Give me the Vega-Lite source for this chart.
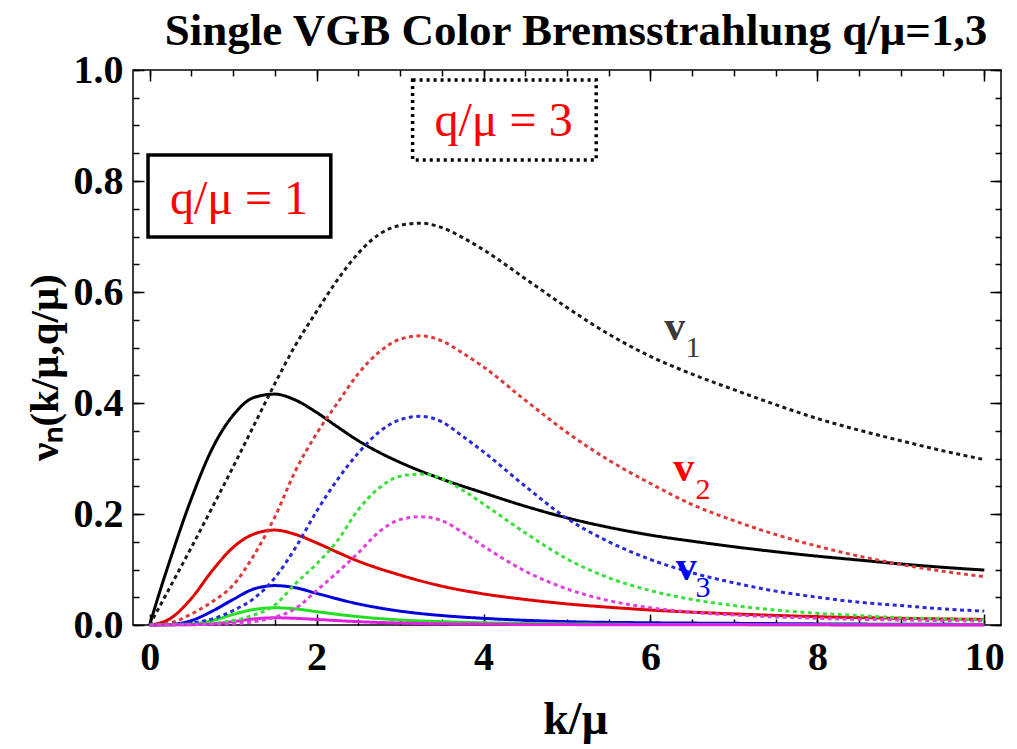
{
  "$schema": "https://vega.github.io/schema/vega-lite/v6.json",
  "width": 868,
  "height": 555,
  "autosize": "none",
  "padding": {"left": 133, "top": 70, "right": 16, "bottom": 124},
  "background": "white",
  "config": {"view": {"stroke": "black", "strokeWidth": 1.5}, "font": "Liberation Serif"},
  "title": {"text": "Single VGB Color Bremsstrahlung q/μ=1,3", "font": "Liberation Serif", "fontSize": 45, "fontWeight": "bold", "color": "black", "anchor": "middle", "offset": 22, "baseline": "alphabetic", "dx": 9, "dy": 62},
  "datasets": {
    "curves": [
      {"id":"1-1","q":"1","k":0,"v":0},{"id":"1-1","q":"1","k":0.1,"v":0.05},{"id":"1-1","q":"1","k":0.25,"v":0.12},{"id":"1-1","q":"1","k":0.5,"v":0.228},{"id":"1-1","q":"1","k":0.75,"v":0.318},{"id":"1-1","q":"1","k":1,"v":0.378},{"id":"1-1","q":"1","k":1.25,"v":0.41},{"id":"1-1","q":"1","k":1.5,"v":0.416},{"id":"1-1","q":"1","k":1.75,"v":0.405},{"id":"1-1","q":"1","k":2,"v":0.383},{"id":"1-1","q":"1","k":2.25,"v":0.357},{"id":"1-1","q":"1","k":2.5,"v":0.332},{"id":"1-1","q":"1","k":2.75,"v":0.311},{"id":"1-1","q":"1","k":3,"v":0.293},{"id":"1-1","q":"1","k":3.5,"v":0.263},{"id":"1-1","q":"1","k":4,"v":0.238},{"id":"1-1","q":"1","k":4.5,"v":0.214},{"id":"1-1","q":"1","k":5,"v":0.193},{"id":"1-1","q":"1","k":5.5,"v":0.176},{"id":"1-1","q":"1","k":6,"v":0.162},{"id":"1-1","q":"1","k":6.5,"v":0.151},{"id":"1-1","q":"1","k":7,"v":0.141},{"id":"1-1","q":"1","k":7.5,"v":0.132},{"id":"1-1","q":"1","k":8,"v":0.124},{"id":"1-1","q":"1","k":8.5,"v":0.117},{"id":"1-1","q":"1","k":9,"v":0.11},{"id":"1-1","q":"1","k":9.5,"v":0.104},{"id":"1-1","q":"1","k":10,"v":0.099},
      {"id":"1-2","q":"1","k":0,"v":0},{"id":"1-2","q":"1","k":0.25,"v":0.012},{"id":"1-2","q":"1","k":0.5,"v":0.048},{"id":"1-2","q":"1","k":0.75,"v":0.098},{"id":"1-2","q":"1","k":1,"v":0.14},{"id":"1-2","q":"1","k":1.25,"v":0.164},{"id":"1-2","q":"1","k":1.5,"v":0.171},{"id":"1-2","q":"1","k":1.75,"v":0.163},{"id":"1-2","q":"1","k":2,"v":0.148},{"id":"1-2","q":"1","k":2.25,"v":0.131},{"id":"1-2","q":"1","k":2.5,"v":0.115},{"id":"1-2","q":"1","k":3,"v":0.09},{"id":"1-2","q":"1","k":3.5,"v":0.07},{"id":"1-2","q":"1","k":4,"v":0.056},{"id":"1-2","q":"1","k":4.5,"v":0.046},{"id":"1-2","q":"1","k":5,"v":0.038},{"id":"1-2","q":"1","k":5.5,"v":0.032},{"id":"1-2","q":"1","k":6,"v":0.027},{"id":"1-2","q":"1","k":7,"v":0.02},{"id":"1-2","q":"1","k":8,"v":0.015},{"id":"1-2","q":"1","k":9,"v":0.012},{"id":"1-2","q":"1","k":10,"v":0.01},
      {"id":"1-3","q":"1","k":0,"v":0},{"id":"1-3","q":"1","k":0.25,"v":0.001},{"id":"1-3","q":"1","k":0.5,"v":0.008},{"id":"1-3","q":"1","k":0.75,"v":0.025},{"id":"1-3","q":"1","k":1,"v":0.046},{"id":"1-3","q":"1","k":1.25,"v":0.065},{"id":"1-3","q":"1","k":1.5,"v":0.071},{"id":"1-3","q":"1","k":1.75,"v":0.067},{"id":"1-3","q":"1","k":2,"v":0.057},{"id":"1-3","q":"1","k":2.5,"v":0.038},{"id":"1-3","q":"1","k":3,"v":0.025},{"id":"1-3","q":"1","k":3.5,"v":0.017},{"id":"1-3","q":"1","k":4,"v":0.012},{"id":"1-3","q":"1","k":5,"v":0.006},{"id":"1-3","q":"1","k":6,"v":0.004},{"id":"1-3","q":"1","k":7,"v":0.003},{"id":"1-3","q":"1","k":8,"v":0.002},{"id":"1-3","q":"1","k":10,"v":0.001},
      {"id":"1-4","q":"1","k":0,"v":0},{"id":"1-4","q":"1","k":0.5,"v":0.002},{"id":"1-4","q":"1","k":0.75,"v":0.008},{"id":"1-4","q":"1","k":1,"v":0.019},{"id":"1-4","q":"1","k":1.25,"v":0.028},{"id":"1-4","q":"1","k":1.5,"v":0.031},{"id":"1-4","q":"1","k":1.75,"v":0.029},{"id":"1-4","q":"1","k":2,"v":0.024},{"id":"1-4","q":"1","k":2.5,"v":0.015},{"id":"1-4","q":"1","k":3,"v":0.009},{"id":"1-4","q":"1","k":3.5,"v":0.006},{"id":"1-4","q":"1","k":4,"v":0.004},{"id":"1-4","q":"1","k":5,"v":0.002},{"id":"1-4","q":"1","k":6,"v":0.001},{"id":"1-4","q":"1","k":10,"v":0.0003},
      {"id":"1-5","q":"1","k":0,"v":0},{"id":"1-5","q":"1","k":0.5,"v":0.0005},{"id":"1-5","q":"1","k":0.75,"v":0.002},{"id":"1-5","q":"1","k":1,"v":0.006},{"id":"1-5","q":"1","k":1.25,"v":0.011},{"id":"1-5","q":"1","k":1.5,"v":0.013},{"id":"1-5","q":"1","k":1.75,"v":0.012},{"id":"1-5","q":"1","k":2,"v":0.01},{"id":"1-5","q":"1","k":2.5,"v":0.006},{"id":"1-5","q":"1","k":3,"v":0.0035},{"id":"1-5","q":"1","k":4,"v":0.0015},{"id":"1-5","q":"1","k":5,"v":0.0007},{"id":"1-5","q":"1","k":10,"v":0.0001},
      {"id":"3-1","q":"3","k":0,"v":0},{"id":"3-1","q":"3","k":0.25,"v":0.07},{"id":"3-1","q":"3","k":0.5,"v":0.14},{"id":"3-1","q":"3","k":0.75,"v":0.212},{"id":"3-1","q":"3","k":1,"v":0.285},{"id":"3-1","q":"3","k":1.25,"v":0.36},{"id":"3-1","q":"3","k":1.5,"v":0.435},{"id":"3-1","q":"3","k":1.75,"v":0.505},{"id":"3-1","q":"3","k":2,"v":0.565},{"id":"3-1","q":"3","k":2.25,"v":0.622},{"id":"3-1","q":"3","k":2.5,"v":0.67},{"id":"3-1","q":"3","k":2.75,"v":0.704},{"id":"3-1","q":"3","k":3,"v":0.72},{"id":"3-1","q":"3","k":3.25,"v":0.724},{"id":"3-1","q":"3","k":3.5,"v":0.716},{"id":"3-1","q":"3","k":3.75,"v":0.698},{"id":"3-1","q":"3","k":4,"v":0.676},{"id":"3-1","q":"3","k":4.5,"v":0.624},{"id":"3-1","q":"3","k":5,"v":0.572},{"id":"3-1","q":"3","k":5.5,"v":0.524},{"id":"3-1","q":"3","k":6,"v":0.484},{"id":"3-1","q":"3","k":6.5,"v":0.452},{"id":"3-1","q":"3","k":7,"v":0.424},{"id":"3-1","q":"3","k":7.5,"v":0.397},{"id":"3-1","q":"3","k":8,"v":0.372},{"id":"3-1","q":"3","k":8.5,"v":0.351},{"id":"3-1","q":"3","k":9,"v":0.332},{"id":"3-1","q":"3","k":9.5,"v":0.314},{"id":"3-1","q":"3","k":10,"v":0.298},
      {"id":"3-2","q":"3","k":0,"v":0},{"id":"3-2","q":"3","k":0.25,"v":0.004},{"id":"3-2","q":"3","k":0.5,"v":0.02},{"id":"3-2","q":"3","k":0.75,"v":0.042},{"id":"3-2","q":"3","k":1,"v":0.072},{"id":"3-2","q":"3","k":1.25,"v":0.126},{"id":"3-2","q":"3","k":1.5,"v":0.195},{"id":"3-2","q":"3","k":1.75,"v":0.279},{"id":"3-2","q":"3","k":2,"v":0.345},{"id":"3-2","q":"3","k":2.25,"v":0.4},{"id":"3-2","q":"3","k":2.5,"v":0.453},{"id":"3-2","q":"3","k":2.75,"v":0.492},{"id":"3-2","q":"3","k":3,"v":0.515},{"id":"3-2","q":"3","k":3.25,"v":0.521},{"id":"3-2","q":"3","k":3.5,"v":0.512},{"id":"3-2","q":"3","k":3.75,"v":0.49},{"id":"3-2","q":"3","k":4,"v":0.465},{"id":"3-2","q":"3","k":4.5,"v":0.405},{"id":"3-2","q":"3","k":5,"v":0.347},{"id":"3-2","q":"3","k":5.5,"v":0.297},{"id":"3-2","q":"3","k":6,"v":0.255},{"id":"3-2","q":"3","k":6.5,"v":0.217},{"id":"3-2","q":"3","k":7,"v":0.188},{"id":"3-2","q":"3","k":7.5,"v":0.163},{"id":"3-2","q":"3","k":8,"v":0.142},{"id":"3-2","q":"3","k":8.5,"v":0.124},{"id":"3-2","q":"3","k":9,"v":0.109},{"id":"3-2","q":"3","k":9.5,"v":0.097},{"id":"3-2","q":"3","k":10,"v":0.087},
      {"id":"3-3","q":"3","k":0,"v":0},{"id":"3-3","q":"3","k":0.5,"v":0.004},{"id":"3-3","q":"3","k":0.75,"v":0.011},{"id":"3-3","q":"3","k":1,"v":0.026},{"id":"3-3","q":"3","k":1.25,"v":0.048},{"id":"3-3","q":"3","k":1.5,"v":0.085},{"id":"3-3","q":"3","k":1.75,"v":0.14},{"id":"3-3","q":"3","k":2,"v":0.205},{"id":"3-3","q":"3","k":2.25,"v":0.262},{"id":"3-3","q":"3","k":2.5,"v":0.31},{"id":"3-3","q":"3","k":2.75,"v":0.348},{"id":"3-3","q":"3","k":3,"v":0.37},{"id":"3-3","q":"3","k":3.25,"v":0.376},{"id":"3-3","q":"3","k":3.5,"v":0.366},{"id":"3-3","q":"3","k":3.75,"v":0.34},{"id":"3-3","q":"3","k":4,"v":0.312},{"id":"3-3","q":"3","k":4.5,"v":0.25},{"id":"3-3","q":"3","k":5,"v":0.192},{"id":"3-3","q":"3","k":5.5,"v":0.15},{"id":"3-3","q":"3","k":6,"v":0.118},{"id":"3-3","q":"3","k":6.5,"v":0.094},{"id":"3-3","q":"3","k":7,"v":0.076},{"id":"3-3","q":"3","k":7.5,"v":0.061},{"id":"3-3","q":"3","k":8,"v":0.05},{"id":"3-3","q":"3","k":8.5,"v":0.041},{"id":"3-3","q":"3","k":9,"v":0.035},{"id":"3-3","q":"3","k":9.5,"v":0.029},{"id":"3-3","q":"3","k":10,"v":0.025},
      {"id":"3-4","q":"3","k":0,"v":0},{"id":"3-4","q":"3","k":0.5,"v":0.001},{"id":"3-4","q":"3","k":1,"v":0.008},{"id":"3-4","q":"3","k":1.25,"v":0.018},{"id":"3-4","q":"3","k":1.5,"v":0.036},{"id":"3-4","q":"3","k":1.75,"v":0.075},{"id":"3-4","q":"3","k":2,"v":0.11},{"id":"3-4","q":"3","k":2.25,"v":0.152},{"id":"3-4","q":"3","k":2.5,"v":0.208},{"id":"3-4","q":"3","k":2.75,"v":0.247},{"id":"3-4","q":"3","k":3,"v":0.268},{"id":"3-4","q":"3","k":3.25,"v":0.272},{"id":"3-4","q":"3","k":3.5,"v":0.264},{"id":"3-4","q":"3","k":3.75,"v":0.243},{"id":"3-4","q":"3","k":4,"v":0.218},{"id":"3-4","q":"3","k":4.5,"v":0.166},{"id":"3-4","q":"3","k":5,"v":0.119},{"id":"3-4","q":"3","k":5.5,"v":0.085},{"id":"3-4","q":"3","k":6,"v":0.062},{"id":"3-4","q":"3","k":6.5,"v":0.046},{"id":"3-4","q":"3","k":7,"v":0.035},{"id":"3-4","q":"3","k":7.5,"v":0.027},{"id":"3-4","q":"3","k":8,"v":0.021},{"id":"3-4","q":"3","k":8.5,"v":0.017},{"id":"3-4","q":"3","k":9,"v":0.013},{"id":"3-4","q":"3","k":9.5,"v":0.011},{"id":"3-4","q":"3","k":10,"v":0.009},
      {"id":"3-5","q":"3","k":0,"v":0},{"id":"3-5","q":"3","k":1,"v":0.002},{"id":"3-5","q":"3","k":1.25,"v":0.006},{"id":"3-5","q":"3","k":1.5,"v":0.014},{"id":"3-5","q":"3","k":1.75,"v":0.03},{"id":"3-5","q":"3","k":2,"v":0.062},{"id":"3-5","q":"3","k":2.25,"v":0.095},{"id":"3-5","q":"3","k":2.5,"v":0.13},{"id":"3-5","q":"3","k":2.75,"v":0.168},{"id":"3-5","q":"3","k":3,"v":0.19},{"id":"3-5","q":"3","k":3.25,"v":0.195},{"id":"3-5","q":"3","k":3.5,"v":0.188},{"id":"3-5","q":"3","k":3.75,"v":0.167},{"id":"3-5","q":"3","k":4,"v":0.142},{"id":"3-5","q":"3","k":4.5,"v":0.097},{"id":"3-5","q":"3","k":5,"v":0.065},{"id":"3-5","q":"3","k":5.5,"v":0.044},{"id":"3-5","q":"3","k":6,"v":0.031},{"id":"3-5","q":"3","k":6.5,"v":0.023},{"id":"3-5","q":"3","k":7,"v":0.018},{"id":"3-5","q":"3","k":8,"v":0.012},{"id":"3-5","q":"3","k":9,"v":0.009},{"id":"3-5","q":"3","k":10,"v":0.007}
    ],
    "boxes": [
      {"box": "q1", "x1": -0.02, "x2": 2.17, "y1": 0.699, "y2": 0.847, "label": "q/μ = 1", "lx": 1.07, "ly": 0.766},
      {"box": "q3", "x1": 3.15, "x2": 5.35, "y1": 0.838, "y2": 0.982, "label": "q/μ = 3", "lx": 4.24, "ly": 0.906}
    ],
    "vlabels": [
      {"n": "1", "vx": 6.29, "vy": 0.537, "sx": 6.51, "sy": 0.499},
      {"n": "2", "vx": 6.4, "vy": 0.283, "sx": 6.63, "sy": 0.243},
      {"n": "3", "vx": 6.43, "vy": 0.105, "sx": 6.63, "sy": 0.067}
    ]
  },
  "resolve": {"axis": {"x": "independent", "y": "independent"}, "scale": {"color": "independent", "strokeDash": "independent"}},
  "layer": [
    {
      "data": {"name": "curves"},
      "mark": {"type": "line", "interpolate": "monotone", "strokeWidth": 3, "strokeCap": "butt"},
      "encoding": {
        "x": {"field": "k", "type": "quantitative", "scale": {"domain": [-0.2, 10.2], "nice": false, "zero": false},
          "axis": {"orient": "bottom", "values": [0, 2, 4, 6, 8, 10], "ticks": false, "domain": false, "grid": false, "labelFont": "Liberation Serif", "labelFontWeight": "bold", "labelFontSize": 40, "labelColor": "black", "labelPadding": 12, "labelFlush": false, "title": "k/μ", "titleFont": "Liberation Serif", "titleFontSize": 46, "titleFontWeight": "bold", "titleColor": "black", "titleBaseline": "alphabetic", "titleX": 442, "titleY": 108}},
        "y": {"field": "v", "type": "quantitative", "scale": {"domain": [0, 1], "nice": false},
          "axis": {"orient": "left", "values": [0, 0.2, 0.4, 0.6, 0.8, 1], "format": ".1f", "ticks": false, "domain": false, "grid": false, "labelFont": "Liberation Serif", "labelFontWeight": "bold", "labelFontSize": 40, "labelColor": "black", "labelPadding": 10, "labelFlush": false, "title": "νₙ(k/μ,q/μ)", "titleFont": "Liberation Serif", "titleFontSize": 41, "titleFontWeight": "bold", "titleColor": "black", "titleAngle": -90, "titleBaseline": "middle", "titleAlign": "center", "titleX": -88, "titleY": 297}},
        "color": {"field": "id", "type": "nominal", "legend": null,
          "scale": {"domain": ["1-1", "1-2", "1-3", "1-4", "1-5", "3-1", "3-2", "3-3", "3-4", "3-5"],
            "range": ["#000000", "#e00000", "#0000dd", "#22e022", "#e020e0", "#1a1a1a", "#e03a3a", "#2a2ad8", "#3ae03a", "#e040e0"]}},
        "strokeDash": {"field": "q", "type": "nominal", "legend": null, "scale": {"domain": ["1", "3"], "range": [[1, 0], [4, 3.5]]}},
        "detail": {"field": "id"}
      }
    },
    {
      "data": {"name": "boxes"},
      "transform": [{"filter": "datum.box === 'q1'"}],
      "mark": {"type": "rect", "fillOpacity": 0, "stroke": "black", "strokeWidth": 3.5},
      "encoding": {
        "x": {"field": "x1", "type": "quantitative", "scale": {"domain": [-0.2, 10.2], "nice": false, "zero": false},
          "axis": {"orient": "top", "offset": -555, "values": [0, 2, 4, 6, 8, 10], "labels": false, "domain": false, "grid": false, "tickSize": 11, "tickWidth": 1.5, "tickColor": "black", "title": null}},
        "x2": {"field": "x2"},
        "y": {"field": "y1", "type": "quantitative", "scale": {"domain": [0, 1], "nice": false},
          "axis": {"orient": "right", "offset": -868, "values": [0, 0.2, 0.4, 0.6, 0.8, 1], "labels": false, "domain": false, "grid": false, "tickSize": 11, "tickWidth": 1.5, "tickColor": "black", "title": null}},
        "y2": {"field": "y2"}
      }
    },
    {
      "data": {"name": "boxes"},
      "transform": [{"filter": "datum.box === 'q3'"}],
      "mark": {"type": "rect", "fillOpacity": 0, "stroke": "black", "strokeWidth": 3.5, "strokeDash": [3, 4]},
      "encoding": {
        "x": {"field": "x1", "type": "quantitative", "scale": {"domain": [-0.2, 10.2], "nice": false, "zero": false}, "axis": null},
        "x2": {"field": "x2"},
        "y": {"field": "y1", "type": "quantitative", "scale": {"domain": [0, 1], "nice": false}, "axis": null},
        "y2": {"field": "y2"}
      }
    },
    {
      "data": {"name": "boxes"},
      "mark": {"type": "text", "font": "Liberation Serif", "fontSize": 48, "color": "#ff0000", "align": "center", "baseline": "middle"},
      "encoding": {
        "x": {"field": "lx", "type": "quantitative", "scale": {"domain": [-0.2, 10.2], "nice": false, "zero": false},
          "axis": {"orient": "top", "offset": -555, "values": [0, 0.5, 1, 1.5, 2, 2.5, 3, 3.5, 4, 4.5, 5, 5.5, 6, 6.5, 7, 7.5, 8, 8.5, 9, 9.5, 10], "labels": false, "domain": false, "grid": false, "tickSize": 6, "tickWidth": 1.5, "tickColor": "black", "title": null}},
        "y": {"field": "ly", "type": "quantitative", "scale": {"domain": [0, 1], "nice": false},
          "axis": {"orient": "right", "offset": -868, "values": [0, 0.05, 0.1, 0.15, 0.2, 0.25, 0.3, 0.35, 0.4, 0.45, 0.5, 0.55, 0.6, 0.65, 0.7, 0.75, 0.8, 0.85, 0.9, 0.95, 1], "labels": false, "domain": false, "grid": false, "tickSize": 6, "tickWidth": 1.5, "tickColor": "black", "title": null}},
        "text": {"field": "label"}
      }
    },
    {
      "data": {"name": "vlabels"},
      "mark": {"type": "text", "font": "Liberation Serif", "fontSize": 42, "fontWeight": "bold", "align": "center", "baseline": "middle"},
      "encoding": {
        "x": {"field": "vx", "type": "quantitative", "scale": {"domain": [-0.2, 10.2], "nice": false, "zero": false},
          "axis": {"orient": "bottom", "offset": -555, "values": [0, 2, 4, 6, 8, 10], "labels": false, "domain": false, "grid": false, "tickSize": 11, "tickWidth": 1.5, "tickColor": "black", "title": null}},
        "y": {"field": "vy", "type": "quantitative", "scale": {"domain": [0, 1], "nice": false},
          "axis": {"orient": "left", "offset": -868, "values": [0, 0.2, 0.4, 0.6, 0.8, 1], "labels": false, "domain": false, "grid": false, "tickSize": 11, "tickWidth": 1.5, "tickColor": "black", "title": null}},
        "text": {"value": "v"},
        "color": {"field": "n", "type": "nominal", "legend": null, "scale": {"domain": ["1", "2", "3"], "range": ["#3a3a3a", "#ff0000", "#0000ff"]}}
      }
    },
    {
      "data": {"name": "vlabels"},
      "mark": {"type": "text", "font": "Liberation Serif", "fontSize": 30, "align": "center", "baseline": "middle"},
      "encoding": {
        "x": {"field": "sx", "type": "quantitative", "scale": {"domain": [-0.2, 10.2], "nice": false, "zero": false},
          "axis": {"orient": "bottom", "offset": -555, "values": [0, 0.5, 1, 1.5, 2, 2.5, 3, 3.5, 4, 4.5, 5, 5.5, 6, 6.5, 7, 7.5, 8, 8.5, 9, 9.5, 10], "labels": false, "domain": false, "grid": false, "tickSize": 6, "tickWidth": 1.5, "tickColor": "black", "title": null}},
        "y": {"field": "sy", "type": "quantitative", "scale": {"domain": [0, 1], "nice": false},
          "axis": {"orient": "left", "offset": -868, "values": [0, 0.05, 0.1, 0.15, 0.2, 0.25, 0.3, 0.35, 0.4, 0.45, 0.5, 0.55, 0.6, 0.65, 0.7, 0.75, 0.8, 0.85, 0.9, 0.95, 1], "labels": false, "domain": false, "grid": false, "tickSize": 6, "tickWidth": 1.5, "tickColor": "black", "title": null}},
        "text": {"field": "n"},
        "color": {"field": "n", "type": "nominal", "legend": null, "scale": {"domain": ["1", "2", "3"], "range": ["#3a3a3a", "#ff0000", "#0000ff"]}}
      }
    }
  ]
}
